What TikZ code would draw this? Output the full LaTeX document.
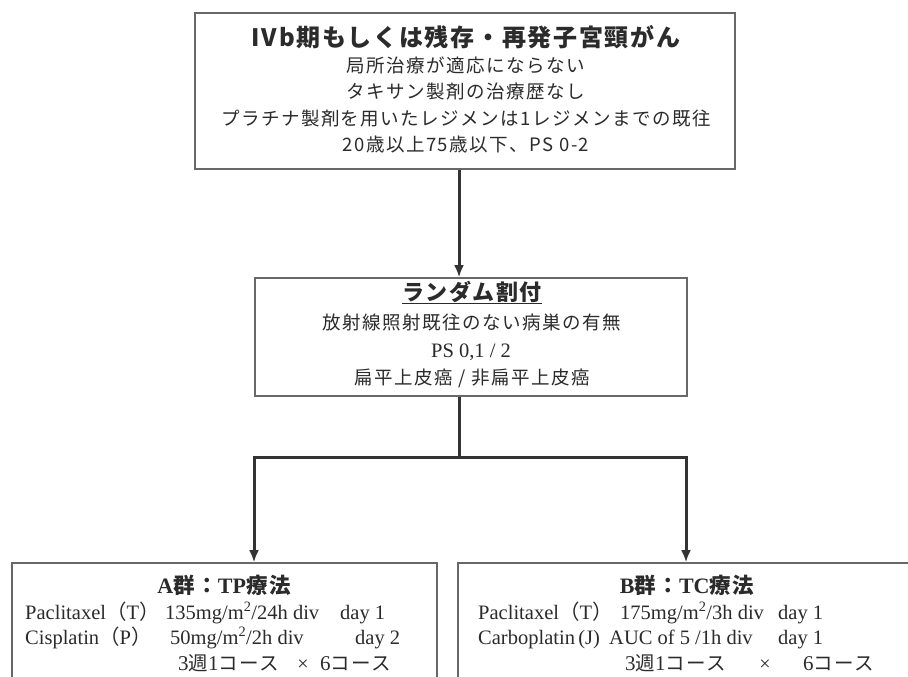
\documentclass[tikz,border=0pt]{standalone}
\usepackage{fontspec}
\setmainfont{Liberation Serif}
\newfontfamily\jp{Noto Sans CJK JP}
\newfontfamily\jpA[LetterSpace=7]{Noto Sans CJK JP}
\newfontfamily\jpB[LetterSpace=8]{Noto Sans CJK JP}
\usetikzlibrary{arrows.meta}
\definecolor{ink}{HTML}{2B2B2B}
\definecolor{frame}{HTML}{686868}
\definecolor{arr}{HTML}{333333}
\begin{document}
\begin{tikzpicture}[x=1pt,y=-1pt,
  box/.style={draw=frame, line width=1.6pt, fill=white, inner sep=0pt},
  conn/.style={draw=arr, line width=3pt, line join=miter},
  arrowed/.style={conn, -{Latex[length=12pt,width=10pt]}},
  txt/.style={inner sep=0pt, text=ink, anchor=base},
  body/.style={txt, font=\jpB\fontsize{18.5}{18.5}\selectfont},
  lt/.style={inner sep=0pt, text=ink, anchor=base west, font=\fontsize{20.5}{20.5}\selectfont},
  ct/.style={inner sep=0pt, text=ink, anchor=base, font=\fontsize{20}{20}\selectfont},
  cj/.style={inner sep=0pt, text=ink, anchor=base west, font=\fontsize{21}{21}\selectfont}]
\fill[white] (0,0) rectangle (908,677);
\useasboundingbox (0,0) rectangle (908,677);
\clip (0,0) rectangle (908,677);

% boxes
\node[box, minimum width=540pt, minimum height=156pt] (top) at (465,91) {};
\node[box, minimum width=432pt, minimum height=118pt] (mid) at (471,337) {};
\node[box, minimum width=425pt, minimum height=160pt] (ga) at (224.5,643) {};
\node[box, minimum width=460pt, minimum height=160pt] (gb) at (688,643) {};

% connectors
\coordinate (stem) at (459,457);
\coordinate (la) at (254,457);
\coordinate (lb) at (686,457);
\draw[arrowed] (top.south -| stem) -- (mid.north -| stem);
\draw[arrowed] (mid.south -| stem) -- (stem) -| (ga.north -| la);
\draw[arrowed] (stem) -| (gb.north -| lb);

% top box text
\node[txt, font=\jpA\bfseries\fontsize{24}{24}\selectfont] (t0) at (466,47) {IVb期もしくは残存・再発子宮頸がん};
\node[body] (t1) at (466,73) {局所治療が適応にならない};
\node[body] (t2) at (466,99) {タキサン製剤の治療歴なし};
\node[body] (t3) at (466,125) {プラチナ製剤を用いたレジメンは1レジメンまでの既往};
\node[body] (t4) at (466,151) {20歳以上75歳以下、PS 0-2};

% middle box text
\node[txt, font=\jpA\bfseries\fontsize{22}{22}\selectfont] (m0) at (472,300) {\underline{ランダム割付}};
\node[body] (m1) at (472,329) {放射線照射既往のない病巣の有無};
\node[txt, font=\fontsize{20.5}{20.5}\selectfont] (m2) at (471,357) {PS 0,1 / 2};
\node[body] (m3) at (472,384) {扁平上皮癌 / 非扁平上皮癌};

% group A
\node[txt, font=\bfseries\fontsize{22}{22}\selectfont] (a0) at (224,593) {A{\jpA\fontsize{21.5}{21.5}\selectfont 群：}TP{\jpA\fontsize{21.5}{21.5}\selectfont 療法}};
\node[lt] (a11) at (25,619) {Paclitaxel{\jp （}T{\jp ）}};
\node[lt] (a12) at (165,619) {135mg/m\textsuperscript{2}/24h div};
\node[lt] (a13) at (340,619) {day 1};
\node[lt] (a21) at (25,644) {Cisplatin{\jp （}P{\jp ）}};
\node[lt] (a22) at (170,644) {50mg/m\textsuperscript{2}/2h div};
\node[lt] (a23) at (355,644) {day 2};
\node[cj] (a31) at (178,670) {3{\jpB\fontsize{19.5}{19.5}\selectfont 週}1{\jpB\fontsize{19.5}{19.5}\selectfont コース}};
\node[ct] (a32) at (303,670) {×};
\node[cj] (a33) at (320,670) {6{\jpB\fontsize{19.5}{19.5}\selectfont コース}};

% group B
\node[txt, font=\bfseries\fontsize{22}{22}\selectfont] (b0) at (687,593) {B{\jpA\fontsize{21.5}{21.5}\selectfont 群：}TC{\jpA\fontsize{21.5}{21.5}\selectfont 療法}};
\node[lt] (b11) at (478,619) {Paclitaxel{\jp （}T{\jp ）}};
\node[lt] (b12) at (620,619) {175mg/m\textsuperscript{2}/3h div};
\node[lt] (b13) at (778,619) {day 1};
\node[lt] (b21) at (478,644) {Carboplatin\,(J)};
\node[lt] (b22) at (609,644) {AUC of 5 /1h div};
\node[lt] (b23) at (778,644) {day 1};
\node[cj] (b31) at (625,670) {3{\jpB\fontsize{19.5}{19.5}\selectfont 週}1{\jpB\fontsize{19.5}{19.5}\selectfont コース}};
\node[ct] (b32) at (765,670) {×};
\node[cj] (b33) at (803,670) {6{\jpB\fontsize{19.5}{19.5}\selectfont コース}};
\end{tikzpicture}
\end{document}
